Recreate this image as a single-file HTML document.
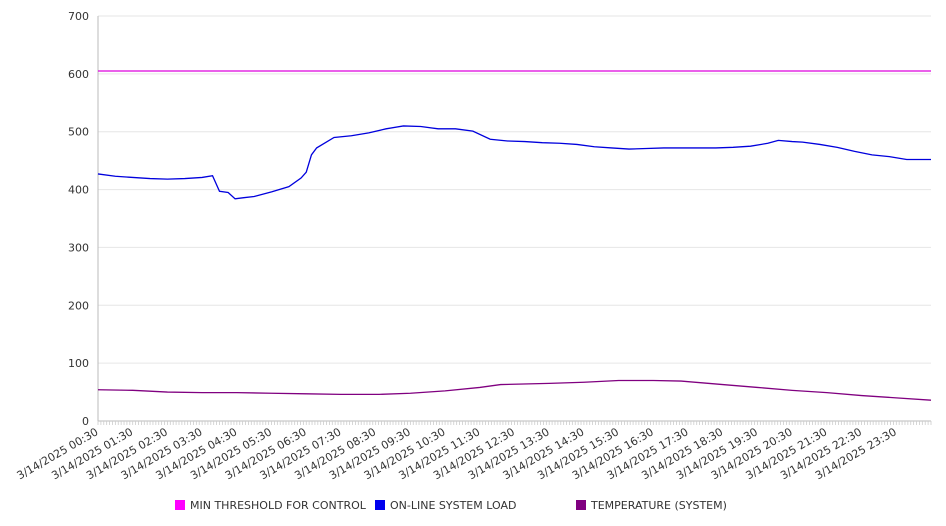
<!DOCTYPE html>
<html><head><meta charset="utf-8"><style>
html,body{margin:0;padding:0;background:#fff;width:946px;height:526px;overflow:hidden}
svg text{font-family:"DejaVu Sans","Liberation Sans",sans-serif;fill:#333}
</style></head><body>
<svg id="chart" width="946" height="526" xmlns="http://www.w3.org/2000/svg"></svg>
<script>
// hours after 00:30
const loadTimes=[0,0.5,1,1.5,2,2.5,3,3.3,3.5,3.75,3.95,4.2,4.5,5,5.5,5.85,6,6.15,6.3,6.8,7.3,7.8,8.3,8.8,9.3,9.8,10.3,10.8,11.3,11.8,12.3,12.8,13.3,13.8,14.3,14.8,15.3,15.8,16.3,16.8,17.3,17.8,18.3,18.8,19.3,19.6,20,20.3,20.8,21.3,21.8,22.3,22.8,23.3,23.7,24];
const loadValues=[427,423,421,419,418,419,421,424,397,395,384,386,388,396,405,420,430,460,472,490,493,498,505,510,509,505,505,501,487,484,483,481,480,478,474,472,470,471,472,472,472,472,473,475,480,485,483,482,478,473,466,460,457,452,452,452];
const tempTimes=[0,1,2,3,4,5,6,7,8.1,9,10,11,11.6,13,14,15,16,16.8,17.4,18,19,20,21,22,23,24];
const tempValues=[54,53,50,49,49,48,47,46,46,48,52,58,63,65,67,70,70,69,66,63,58,53,49,44,40,36];
const thresholdValue=605;
const yTicks=[0,100,200,300,400,500,600,700];
const xLabels=["00:30","01:30","02:30","03:30","04:30","05:30","06:30","07:30","08:30","09:30","10:30","11:30","12:30","13:30","14:30","15:30","16:30","17:30","18:30","19:30","20:30","21:30","22:30","23:30"];
const legendItems=[["MIN THRESHOLD FOR CONTROL","#ff00ff"],["ON-LINE SYSTEM LOAD","#0000ee"],["TEMPERATURE (SYSTEM)","#800080"]];

const X0=98,X1=931,Y0=421,Y1=16,SPAN=24;
const xs=t=>X0+t*(X1-X0)/SPAN;
const ys=v=>Y0-v*(Y0-Y1)/700;
const svg=document.getElementById('chart');
const NS='http://www.w3.org/2000/svg';
function mk(tag,attrs,parent){const e=document.createElementNS(NS,tag);for(const k in attrs)e.setAttribute(k,attrs[k]);(parent||svg).appendChild(e);return e;}

yTicks.forEach(v=>{
  const g=mk('line',{x1:X0,x2:X1,y1:ys(v),y2:ys(v),stroke:v===0?'#bbb':'#e6e6e6','stroke-width':1});
  
  
  const t=mk('text',{x:X0-9,y:ys(v)+4,'text-anchor':'end','font-size':11});
  t.textContent=v;
  
  
});
const ax=mk('line',{x1:X0,x2:X0,y1:Y1,y2:Y0,stroke:'#bbb'});


for(let i=0;i<=SPAN*12;i++){
  const x=xs(i/12);
  const tk=mk('line',{x1:x,x2:x,y1:Y0,y2:Y0+4,stroke:'#ccc','stroke-width':0.8});
  
  
}
xLabels.forEach((l,i)=>{
  const x=xs(i)+1,y=Y0+13;
  const t=mk('text',{x:x,y:y,'text-anchor':'end','font-size':11,transform:`rotate(-30 ${x} ${y})`});
  t.textContent='3/14/2025 '+l;
  
  
});
function line(times,vals,color,name){
  const p=mk('polyline',{points:times.map((t,i)=>xs(t)+','+ys(vals[i])).join(' '),fill:'none',stroke:color,'stroke-width':1.3});
  
  
}
line([0,SPAN],[thresholdValue,thresholdValue],'#dd00dd','threshold-line');
line(loadTimes,loadValues,'#0000dd','system-load-line');
line(tempTimes,tempValues,'#800080','temperature-line');

const lx=[175,375,576];
legendItems.forEach((it,i)=>{
  const g=mk('g',{});
  
  
  mk('rect',{x:lx[i],y:500,width:10,height:10,fill:it[1]},g);
  const t=mk('text',{x:lx[i]+15,y:509,'font-size':11},g);
  t.textContent=it[0];
});
</script>
</body></html>
